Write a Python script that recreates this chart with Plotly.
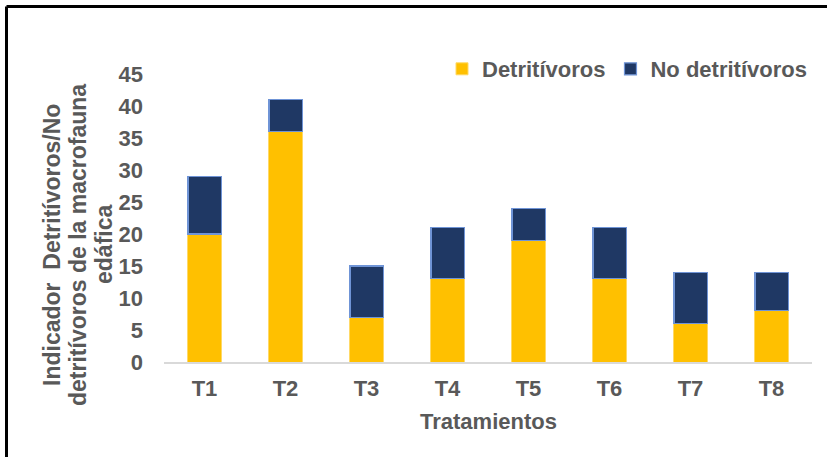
import plotly.graph_objects as go

categories = ["T1", "T2", "T3", "T4", "T5", "T6", "T7", "T8"]
detritivoros = [20, 36, 7, 13, 19, 13, 6, 8]
no_detritivoros = [9, 5, 8, 8, 5, 8, 8, 6]
y_ticks = [0, 5, 10, 15, 20, 25, 30, 35, 40, 45]
y_title_lines = ["Indicador  Detritívoros/No", "detritívoros de la macrofauna", "edáfica"]

W, H = 827, 457
L, R, T, B = 164, 15, 74, 95
pw, ph = W - L - R, H - T - B

def px_x(p):
    return (p - L) / pw

def px_y(p):
    return 1 - (p - T) / ph

grey = "#595959"
font = dict(family="Liberation Sans, Arial, sans-serif", size=22, color=grey, weight="bold")
title_font = dict(font, size=23)

fig = go.Figure()
fig.add_trace(go.Bar(
    x=categories, y=detritivoros, name="Detritívoros",
    marker=dict(color="#FFC000", line=dict(color="#FFD966", width=1)),
    width=0.41,
))
fig.add_trace(go.Bar(
    x=categories, y=no_detritivoros, name="No detritívoros",
    marker=dict(color="#1F3864", line=dict(color="#6F94D6", width=1.2)),
    width=0.41,
))

fig.update_layout(
    width=W, height=H,
    margin=dict(l=L, r=R, t=T, b=B, autoexpand=False),
    barmode="stack",
    paper_bgcolor="white", plot_bgcolor="white",
    font=font,
    showlegend=True,
    legend=dict(orientation="h", x=1.0, xanchor="right", y=px_y(69), yanchor="middle",
                font=font, bgcolor="rgba(0,0,0,0)", traceorder="normal", itemwidth=30),
    xaxis=dict(showline=True, linecolor="#D9D9D9", linewidth=1.5, showgrid=False,
               ticks="", ticklabelstandoff=6, tickfont=font),
    yaxis=dict(range=[0, 45], tickvals=y_ticks, showgrid=False, showline=False,
               zeroline=False, ticks="", ticklabelstandoff=20, tickfont=font),
)

for line_text, cx in zip(y_title_lines, [52, 78, 104]):
    fig.add_annotation(
        text=line_text, xref="paper", yref="paper", x=px_x(cx), y=px_y(245),
        xanchor="center", yanchor="middle", textangle=-90, showarrow=False, font=title_font,
    )
fig.add_annotation(
    text="Tratamientos", xref="paper", yref="paper", x=0.5, y=px_y(421),
    xanchor="center", yanchor="middle", showarrow=False, font=font,
)

# outer frame (left and top edges visible)
fig.add_shape(type="line", xref="paper", yref="paper", x0=px_x(6.5), x1=px_x(900),
              y0=px_y(6.5), y1=px_y(6.5), line=dict(color="black", width=3))
fig.add_shape(type="line", xref="paper", yref="paper", x0=px_x(6.5), x1=px_x(6.5),
              y0=px_y(6.5), y1=px_y(500), line=dict(color="black", width=3))

fig.write_html("out.html", config={"displayModeBar": False},
               post_script="document.body.style.margin='0';")
